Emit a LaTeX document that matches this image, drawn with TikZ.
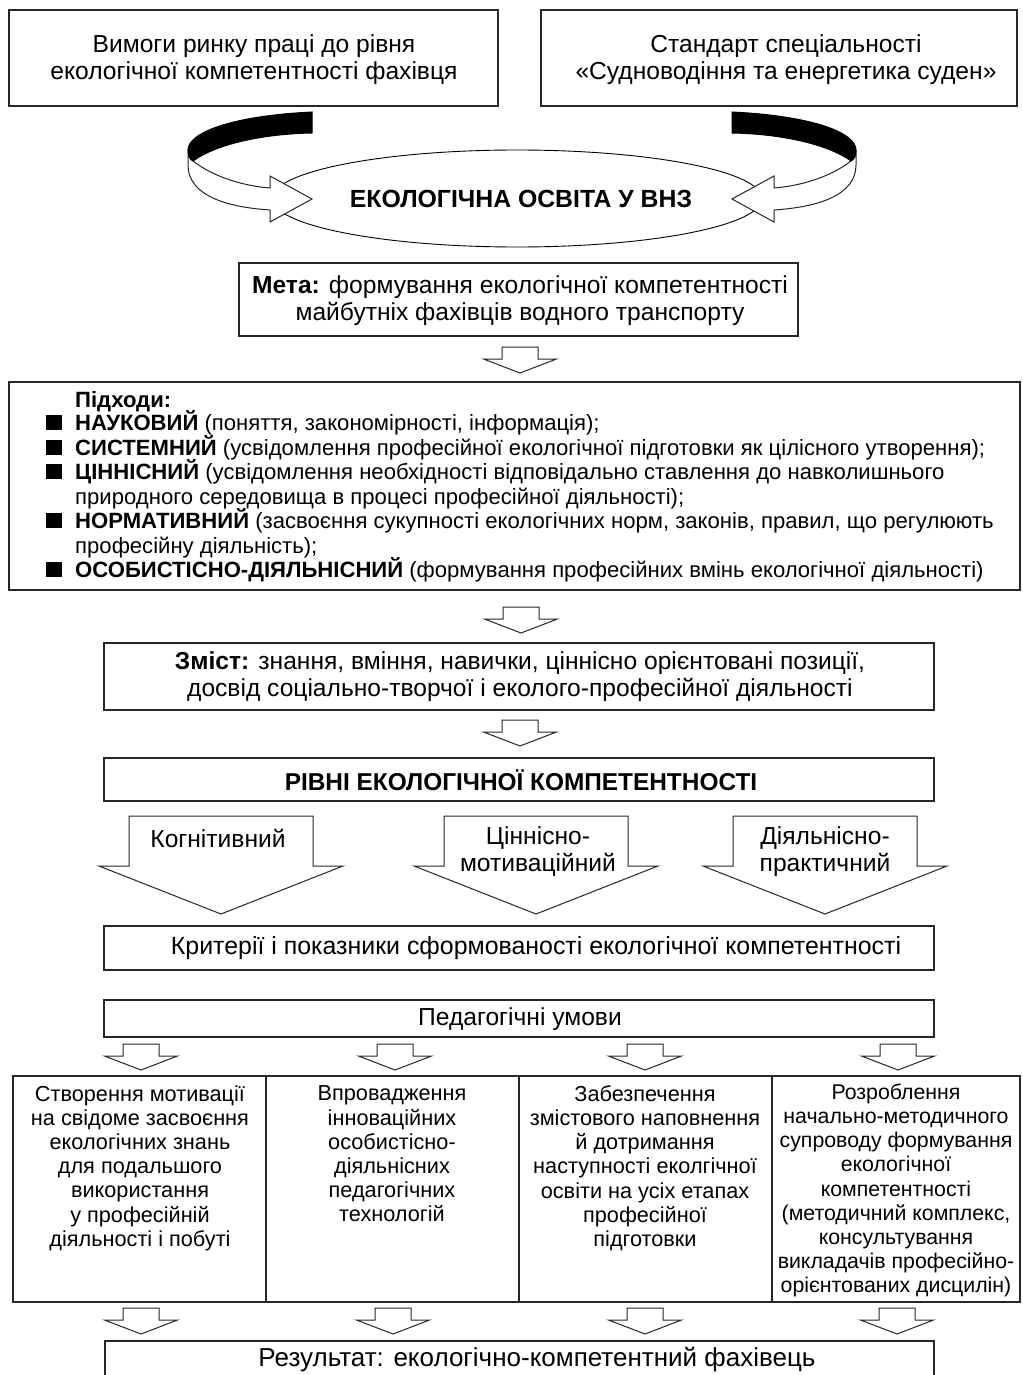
\documentclass[tikz,border=0pt]{standalone}
\usepackage{fontspec}
\setmainfont{Liberation Sans}
\usetikzlibrary{shapes.geometric}
\tikzset{
  box/.style={draw=black!85,line width=1.4pt,inner sep=0pt,fill=white},
  arrline/.style={draw=black!85,line width=1pt,fill=white,line join=miter},
  bigtxt/.style={font=\fontsize{24.6}{27}\selectfont,align=center,inner sep=0pt},
  coltxt/.style={font=\fontsize{21.7}{24.2}\selectfont,align=center,inner sep=0pt},
  aptxt/.style={font=\fontsize{22.1}{24.5}\selectfont,inner sep=0pt,anchor=base west},
  sarrow/.pic={\path[arrline] (-18,0) -- (18,0) -- (18,12) -- (36.5,12) -- (0,26) -- (-36.5,12) -- (-18,12) -- cycle;},
  barrow/.pic={\path[arrline] (-92,0) -- (92,0) -- (92,50) -- (122,50) -- (0,98) -- (-122,50) -- (-92,50) -- cycle;},
  ribbon/.pic={
    \path[arrline] (-329,-38) .. controls (-307,-21) and (-277,-13) .. (-252,-11) -- (-252,-23) -- (-210,0) -- (-252,23) -- (-252,11) .. controls (-297,8) and (-334,-4) .. (-334,-34) -- (-334,-49) .. controls (-334,-43) and (-332,-40) .. (-329,-38) -- cycle;
    \path[fill=black,draw=black,line width=1pt] (-210,-87) .. controls (-292,-83) and (-334,-66) .. (-334,-49) .. controls (-334,-43) and (-332,-40) .. (-329,-38) .. controls (-307,-54) and (-262,-65) .. (-210,-66) -- cycle;
  }
}
\begin{document}
\begin{tikzpicture}[x=1pt,y=-1pt]
\useasboundingbox (0,0) rectangle (1022,1375);
\fill[white] (0,0) rectangle (1022,1375);

% top boxes
\node[box,minimum width=489pt,minimum height=96pt] (b1) at (253.5,58) {};
\node[bigtxt] (t1) at (254,59.5) {Вимоги ринку праці до рівня\\екологічної компетентності фахівця};
\node[box,minimum width=476pt,minimum height=96pt] (b2) at (779,58) {};
\node[bigtxt] (t2) at (786,59.5) {Стандарт спеціальності\\«Судноводіння та енергетика суден»};

% ellipse
\node[draw=black,line width=0.9pt,ellipse,minimum width=490pt,minimum height=97pt,inner sep=0pt] (eco) at (517,198.5) {};
\node[bigtxt,font=\fontsize{24.8}{27}\selectfont\bfseries] (ecot) at (521,199) {ЕКОЛОГІЧНА ОСВІТА У ВНЗ};
\coordinate (rc) at (522,199);
\pic at (rc) {ribbon};
\pic[xscale=-1] at (rc) {ribbon};

% Мета
\node[box,minimum width=559pt,minimum height=73pt] (meta) at (518.5,299.5) {};
\node[bigtxt] (metat) at (520,301) {\textbf{Мета:} формування екологічної компетентності\\майбутніх фахівців водного транспорту};
\pic at (520,347) {sarrow};

% Підходи
\node[box,minimum width=1011pt,minimum height=208pt] (pid) at (514.5,486) {};
\node[aptxt] (p1) at (75,407) {\textbf{Підходи:}};
\node[aptxt] (p2) at (75,430) {\textbf{НАУКОВИЙ} (поняття, закономірності, інформація);};
\node[aptxt] (p3) at (75,455) {\textbf{СИСТЕМНИЙ} (усвідомлення професійної екологічної підготовки як цілісного утворення);};
\node[aptxt] (p4) at (75,479) {\textbf{ЦІННІСНИЙ} (усвідомлення необхідності відповідально ставлення до навколишнього};
\node[aptxt] (p5) at (75,504) {природного середовища в процесі професійної діяльності);};
\node[aptxt] (p6) at (75,528) {\textbf{НОРМАТИВНИЙ} (засвоєння сукупності екологічних норм, законів, правил, що регулюють};
\node[aptxt] (p7) at (75,553) {професійну діяльність);};
\node[aptxt] (p8) at (75,577) {\textbf{ОСОБИСТІСНО-ДІЯЛЬНІСНИЙ} (формування професійних вмінь екологічної діяльності)};
\foreach \by in {430,455,479,528,577}{
  \fill[black] (46,\by-15.5) rectangle (62,\by);
}
\pic at (521,607) {sarrow};

% Зміст
\node[box,minimum width=830pt,minimum height=67pt] (zm) at (519,676.5) {};
\node[bigtxt] (zmt) at (520,676.5) {\textbf{Зміст:} знання, вміння, навички, ціннісно орієнтовані позиції,\\досвід соціально-творчої і еколого-професійної діяльності};
\pic at (520,720) {sarrow};

% Рівні
\node[box,minimum width=830pt,minimum height=43pt] (rv) at (519,779.5) {};
\node[bigtxt,font=\fontsize{24.4}{27}\selectfont\bfseries] (rvt) at (521,780) {РІВНІ ЕКОЛОГІЧНОЇ КОМПЕТЕНТНОСТІ};

% big arrows
\pic at (221,816) {barrow};
\pic at (536,816) {barrow};
\pic at (825,816) {barrow};
\node[bigtxt] (a1) at (218,838) {Когнітивний};
\node[bigtxt] (a2) at (538,852) {Ціннісно-\\мотиваційний};
\node[bigtxt] (a3) at (825,852) {Діяльнісно-\\практичний};

% Критерії
\node[box,minimum width=830pt,minimum height=44pt] (kr) at (519,948) {};
\node[bigtxt,font=\fontsize{24.9}{27}\selectfont] (krt) at (536,948) {Критерії і показники сформованості екологічної компетентності};

% Педагогічні умови
\node[box,minimum width=830pt,minimum height=37pt] (pu) at (519,1018.5) {};
\node[bigtxt] (put) at (520,1019) {Педагогічні умови};
\foreach \cx in {141,395,645,898}{ \pic at (\cx,1044) {sarrow}; }

% columns
\node[box,minimum width=253pt,minimum height=226pt] (c1) at (139.5,1189) {};
\node[box,minimum width=253pt,minimum height=226pt] (c2) at (392.5,1189) {};
\node[box,minimum width=253pt,minimum height=226pt] (c3) at (645.5,1189) {};
\node[box,minimum width=248pt,minimum height=226pt] (c4) at (896,1189) {};
\node[coltxt] (c1t) at (140,1168) {Створення мотивації\\на свідоме засвоєння\\екологічних знань\\для подальшого\\використання\\у професійній\\діяльності і побуті};
\node[coltxt] (c2t) at (392,1154) {Впровадження\\інноваційних\\особистісно-\\діяльнісних\\педагогічних\\технологій};
\node[coltxt] (c3t) at (645,1168) {Забезпечення\\змістового наповнення\\й дотримання\\наступності еколгічної\\освіти на усіх етапах\\професійної\\підготовки};
\node[coltxt,font=\fontsize{21.3}{24.2}\selectfont] (c4t) at (896,1190.5) {Розроблення\\начально-методичного\\супроводу формування\\екологічної\\компетентності\\(методичний комплекс,\\консультування\\викладачів професійно-\\орієнтованих дисцилін)};

\foreach \cx in {141,393,645,897}{ \pic at (\cx,1308) {sarrow}; }

% result
\node[box,minimum width=829pt,minimum height=60pt] (res) at (519.5,1371) {};
\node[bigtxt,font=\fontsize{26}{27}\selectfont] (rest) at (537,1360) {Результат: екологічно-компетентний фахівець};
\end{tikzpicture}
\end{document}
